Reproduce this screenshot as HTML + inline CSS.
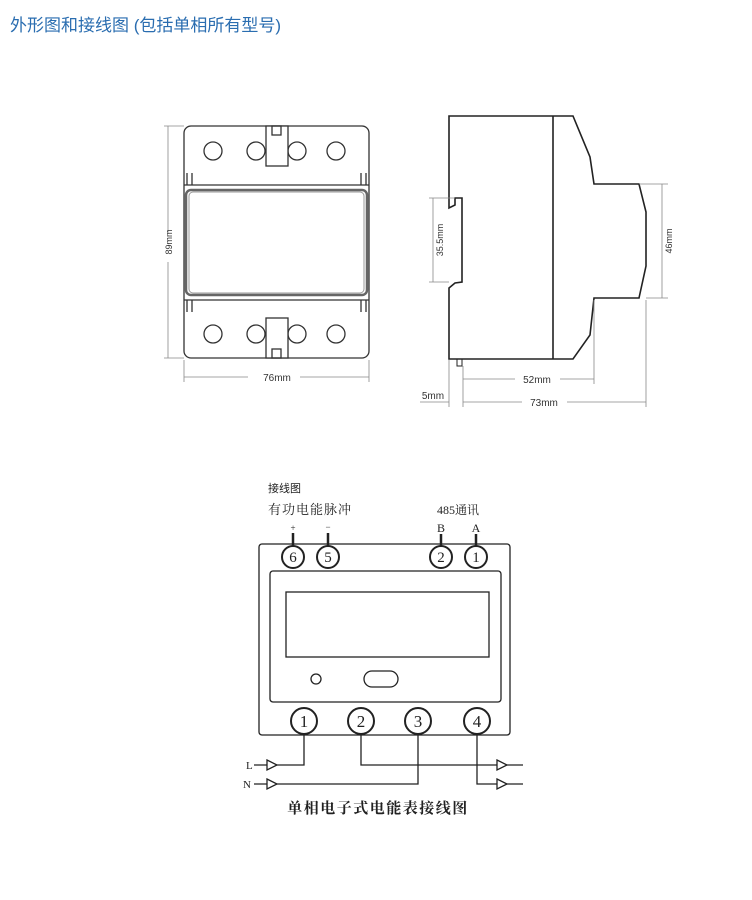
<!DOCTYPE html>
<html><head><meta charset="utf-8"><style>
body{margin:0;background:#fff;width:752px;height:900px;overflow:hidden}
svg{position:absolute;left:0;top:0}
</style></head><body>
<svg width="752" height="900" viewBox="0 0 752 900" xmlns="http://www.w3.org/2000/svg">
<text x="10" y="31" font-family="Liberation Sans, Noto Sans CJK SC, sans-serif" font-size="17" fill="#2a6db0">外形图和接线图 (包括单相所有型号)</text>

<!-- Front view -->
<g fill="none" stroke="#333" stroke-width="1.3">
<rect x="184" y="126" width="185" height="232" rx="7"/>
<line x1="184" y1="185" x2="369" y2="185"/>
<line x1="184" y1="300" x2="369" y2="300"/>
<rect x="186" y="190" width="181" height="105" rx="5" stroke="#666" stroke-width="2.5"/>
<rect x="189" y="192" width="175" height="101" rx="4" stroke="#999" stroke-width="1"/>
<line x1="187" y1="173" x2="187" y2="185"/><line x1="192" y1="173" x2="192" y2="185"/>
<line x1="361" y1="173" x2="361" y2="185"/><line x1="366" y1="173" x2="366" y2="185"/>
<line x1="187" y1="300" x2="187" y2="312"/><line x1="192" y1="300" x2="192" y2="312"/>
<line x1="361" y1="300" x2="361" y2="312"/><line x1="366" y1="300" x2="366" y2="312"/>
<circle cx="213" cy="151" r="9"/><circle cx="256" cy="151" r="9"/><circle cx="297" cy="151" r="9"/><circle cx="336" cy="151" r="9"/>
<circle cx="213" cy="334" r="9"/><circle cx="256" cy="334" r="9"/><circle cx="297" cy="334" r="9"/><circle cx="336" cy="334" r="9"/>
<rect x="266" y="126" width="22" height="40" fill="#fff"/>
<rect x="272" y="126" width="9" height="9"/>
<rect x="266" y="318" width="22" height="40" fill="#fff"/>
<rect x="272" y="349" width="9" height="9"/>
</g>
<g stroke="#888" stroke-width="0.8" fill="none">
<line x1="168" y1="126" x2="168" y2="232"/><line x1="168" y1="262" x2="168" y2="358"/>
<line x1="164" y1="126" x2="184" y2="126"/><line x1="164" y1="358" x2="184" y2="358"/>
<line x1="184" y1="360" x2="184" y2="382"/><line x1="369" y1="360" x2="369" y2="382"/>
<line x1="184" y1="377" x2="248" y2="377"/><line x1="300" y1="377" x2="369" y2="377"/>
</g>
<text x="0" y="0" transform="translate(172,242) rotate(-90)" text-anchor="middle" font-family="Liberation Sans, sans-serif" font-size="9" fill="#333">89mm</text>
<text x="277" y="381" text-anchor="middle" font-family="Liberation Sans, sans-serif" font-size="10" fill="#333">76mm</text>

<!-- Side view -->
<g fill="none" stroke="#222" stroke-width="1.6">
<path d="M449,116 L573,116 L590,157 L594,184 L639,184 L646,212 L646,266 L639,298 L594,298 L590,335 L573,359 L449,359 L449,288 L455,283 L462,282 L462,198 L455,198 L455,205 L449,208 Z"/>
<line x1="553" y1="116" x2="553" y2="359"/>
<rect x="457" y="359" width="5" height="7" stroke-width="1"/>
</g>
<g stroke="#888" stroke-width="0.8" fill="none">
<line x1="429" y1="198" x2="455" y2="198"/><line x1="429" y1="282" x2="449" y2="282"/>
<line x1="433" y1="198" x2="433" y2="282"/>
<line x1="639" y1="184" x2="668" y2="184"/><line x1="646" y1="298" x2="668" y2="298"/>
<line x1="662" y1="184" x2="662" y2="298"/>
<line x1="449" y1="360" x2="449" y2="407"/><line x1="463" y1="366" x2="463" y2="407"/>
<line x1="594" y1="300" x2="594" y2="384"/><line x1="646" y1="300" x2="646" y2="407"/>
<line x1="463" y1="379" x2="515" y2="379"/><line x1="560" y1="379" x2="594" y2="379"/>
<line x1="463" y1="402" x2="522" y2="402"/><line x1="567" y1="402" x2="646" y2="402"/>
<line x1="420" y1="402" x2="449" y2="402"/>
</g>
<text transform="translate(443,240) rotate(-90)" text-anchor="middle" font-family="Liberation Sans, sans-serif" font-size="9" fill="#333">35.5mm</text>
<text transform="translate(672,241) rotate(-90)" text-anchor="middle" font-family="Liberation Sans, sans-serif" font-size="9" fill="#333">46mm</text>
<text x="537" y="383" text-anchor="middle" font-family="Liberation Sans, sans-serif" font-size="10" fill="#333">52mm</text>
<text x="544" y="406" text-anchor="middle" font-family="Liberation Sans, sans-serif" font-size="10" fill="#333">73mm</text>
<text x="433" y="399" text-anchor="middle" font-family="Liberation Sans, sans-serif" font-size="10" fill="#333">5mm</text>

<!-- Wiring -->
<g font-family="Liberation Serif, Noto Serif CJK SC, serif" fill="#222">
<text x="268" y="492" font-size="11" font-family="Liberation Sans, Noto Sans CJK SC, sans-serif">接线图</text>
<text x="268" y="514" font-size="13" letter-spacing="1">有功电能脉冲</text>
<text x="437" y="514" font-size="12">485通讯</text>
<text x="293" y="531" font-size="9" text-anchor="middle">+</text>
<text x="328" y="530" font-size="9" text-anchor="middle">−</text>
<text x="441" y="532" font-size="12" text-anchor="middle">B</text>
<text x="476" y="532" font-size="12" text-anchor="middle">A</text>
<text x="378" y="813" font-size="15" text-anchor="middle" font-weight="bold" letter-spacing="1.5">单相电子式电能表接线图</text>
<text x="246" y="769" font-size="11">L</text>
<text x="243" y="788" font-size="11">N</text>
</g>
<g fill="none" stroke="#222" stroke-width="1.3">
<rect x="259" y="544" width="251" height="191" rx="3"/>
<rect x="270" y="571" width="231" height="131" rx="3"/>
<rect x="286" y="592" width="203" height="65"/>
<circle cx="316" cy="679" r="5"/>
<rect x="364" y="671" width="34" height="16" rx="8"/>
<g stroke-width="2.5"><line x1="293" y1="533" x2="293" y2="546"/><line x1="328" y1="533" x2="328" y2="546"/><line x1="441" y1="534" x2="441" y2="546"/><line x1="476" y1="534" x2="476" y2="546"/></g>
<g stroke-width="2" fill="#fff">
<circle cx="293" cy="557" r="11"/><circle cx="328" cy="557" r="11"/><circle cx="441" cy="557" r="11"/><circle cx="476" cy="557" r="11"/>
<circle cx="304" cy="721" r="13"/><circle cx="361" cy="721" r="13"/><circle cx="418" cy="721" r="13"/><circle cx="477" cy="721" r="13"/>
</g>
<polyline points="304,734 304,765 254,765"/>
<polyline points="361,734 361,765 523,765"/>
<polyline points="418,734 418,784 254,784"/>
<polyline points="477,734 477,784 523,784"/>
<g fill="#fff"><path d="M267,760 L277,765 L267,770 Z"/><path d="M267,779 L277,784 L267,789 Z"/><path d="M497,760 L507,765 L497,770 Z"/><path d="M497,779 L507,784 L497,789 Z"/></g>
</g>
<g font-family="Liberation Serif, serif" font-size="15" fill="#222" text-anchor="middle">
<text x="293" y="562">6</text><text x="328" y="562">5</text><text x="441" y="562">2</text><text x="476" y="562">1</text>
<text x="304" y="727" font-size="17">1</text><text x="361" y="727" font-size="17">2</text><text x="418" y="727" font-size="17">3</text><text x="477" y="727" font-size="17">4</text>
</g>
</svg>
</body></html>
